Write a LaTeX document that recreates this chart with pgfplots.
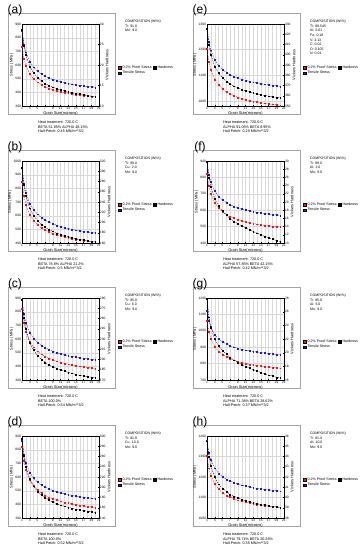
\documentclass[border=0pt]{standalone}
\usepackage{fontspec}
\setmainfont{Liberation Sans}
\usepackage{pgfplots}
\usepackage{pgfplotstable}
\pgfplotsset{compat=1.18}

\definecolor{cred}{RGB}{235,25,25}
\definecolor{cblue}{RGB}{25,25,215}
\definecolor{framec}{RGB}{165,165,165}
\newcommand{\tkf}{\fontsize{3.3}{3.8}\selectfont}
\newcommand{\lbf}{\fontsize{3.9}{4.4}\selectfont}
\newcommand{\lgf}{\fontsize{3.6}{4.2}\selectfont}

\pgfplotstableread{
x r b h
1 736 850 28.6
1.5 649 752 24.8
2 597 694 22.5
3 536 625 19.7
4 499 584 18.1
5 474 556 17.0
6 456 535 16.2
7 441 519 15.5
8 430 506 15.0
9 420 495 14.6
10 412 486 14.2
11 405 478 13.9
12 399 472 13.7
13 394 466 13.4
14 389 460 13.2
15 384 455 13.0
16 381 451 12.9
17 377 447 12.7
18 374 443 12.6
19 371 440 12.4
20 368 437 12.3
}\tabA
\pgfplotstableread{
x r b h
1 850 951 307
1.5 745 838 273
2 683 771 252
3 609 691 228
4 565 643 214
5 535 611 204
6 512 587 196
7 495 568 191
8 481 553 186
9 470 541 183
10 460 530 179
11 451 521 177
12 444 513 174
13 438 506 172
14 432 500 170
15 427 494 168
16 422 489 167
17 418 485 166
18 414 480 164
19 410 477 163
20 407 473 162
}\tabB
\pgfplotstableread{
x r b h
1 819 888 288
1.5 717 784 261
2 656 722 245
3 583 649 225
4 540 605 214
5 511 575 206
6 489 553 200
7 472 536 196
8 459 522 192
9 447 510 189
10 438 501 187
11 429 492 185
12 422 485 183
13 416 479 181
14 410 473 180
15 405 468 178
16 401 463 177
17 397 459 176
18 393 455 175
19 389 451 174
20 386 448 173
}\tabC
\pgfplotstableread{
x r b h
1 822 863 295
1.5 717 764 261
2 655 704 241
3 580 634 217
4 536 592 202
5 506 563 192
6 484 542 185
7 466 526 180
8 452 513 175
9 441 502 171
10 431 492 168
11 423 484 165
12 415 477 163
13 409 471 161
14 403 466 159
15 398 461 157
16 393 456 156
17 389 452 155
18 385 449 153
19 381 445 152
20 378 442 151
}\tabD
\pgfplotstableread{
x r b h
1 1204 1283 425.7
1.5 1152 1230 409.7
2 1121 1198 400.2
3 1084 1160 388.8
4 1062 1138 382.1
5 1047 1122 377.5
6 1036 1111 374.1
7 1027 1102 371.5
8 1020 1095 369.3
9 1014 1089 367.6
10 1009 1084 366.1
11 1005 1080 364.8
12 1002 1076 363.7
13 998 1073 362.7
14 996 1070 361.8
15 993 1067 361.0
16 991 1065 360.3
17 988 1063 359.6
18 987 1061 359.1
19 985 1059 358.5
20 983 1057 358.0
}\tabE
\pgfplotstableread{
x r b h
1 824 896 29.8
1.5 747 819 26.0
2 701 773 23.8
3 646 718 20.8
4 613 685 19.0
5 591 663 17.8
6 575 647 16.8
7 562 634 16.0
8 552 624 15.3
9 543 615 14.7
10 536 608 14.2
11 530 602 13.7
12 524 596 13.2
13 520 592 12.8
14 515 587 12.4
15 512 584 12.0
16 508 580 11.6
17 505 577 11.3
18 502 574 11.0
19 499 571 10.6
20 497 569 10.3
}\tabF
\pgfplotstableread{
x r b h
1 1062 1124 27.9
1.5 994 1060 25.2
2 953 1023 23.7
3 904 978 22.0
4 875 951 21.0
5 856 933 20.3
6 841 919 19.8
7 830 909 19.3
8 821 900 18.9
9 813 893 18.6
10 807 887 18.3
11 801 882 18.0
12 796 878 17.8
13 792 874 17.5
14 788 870 17.3
15 785 867 17.1
16 782 864 16.9
17 779 862 16.7
18 777 859 16.6
19 774 857 16.4
20 772 855 16.3
}\tabG
\pgfplotstableread{
x r b h
1 1302 1376 45.5
1.5 1243 1318 44.0
2 1208 1284 43.1
3 1166 1243 42.0
4 1141 1218 41.3
5 1124 1202 40.9
6 1111 1189 40.6
7 1102 1180 40.3
8 1094 1172 40.1
9 1087 1166 40.0
10 1082 1160 39.8
11 1077 1156 39.7
12 1073 1152 39.6
13 1069 1148 39.5
14 1066 1145 39.4
15 1063 1142 39.3
16 1061 1139 39.3
17 1058 1137 39.2
18 1056 1135 39.1
19 1054 1133 39.1
20 1052 1131 39.0
}\tabH

\pgfplotsset{
 legend image code/.code={\draw[#1,solid,fill,draw=black,line width=0.15pt] (0pt,-1.3pt) rectangle (2.6pt,1.3pt);},
 common/.style={scale only axis, width=77pt, height=82pt, xmin=1, xmax=21, anchor=south west, clip=false,
   tick label style={font=\tkf}, label style={font=\lbf},
   /pgf/number format/assume math mode=true, /pgf/number format/1000 sep={},
   axis line style={line width=0.4pt}, major tick length=1.3pt, minor tick length=0pt,
   tick style={line width=0.3pt,black}},
 mainax/.style={common, xtick={1,3,...,21}, minor x tick num=1, grid=both,
   major grid style={gray!30,line width=0.25pt}, minor grid style={gray!30,line width=0.25pt},
   xtick pos=left, ytick pos=left, xlabel={Grain Size(microns)}, ylabel={Stress (MPa)},
   xticklabel style={inner sep=0.8pt}, yticklabel style={inner sep=0.8pt},
   xlabel style={inner sep=1pt}, ylabel style={inner sep=1pt},
   legend columns=2, legend cell align=left,
   legend style={at={(1.247,0.433)}, anchor=west, draw=none, fill=none, font=\lgf,
     inner sep=0pt, row sep=0.5pt, /tikz/column sep=1.2pt, nodes={inner sep=0.4pt}}},
 rightax/.style={common, axis x line=none, axis y line*=right, ylabel={Vickers Hardness},
   yticklabel style={inner sep=0.8pt}, ylabel style={inner sep=1pt}},
 pr/.style={cred, line width=0.35pt, dash pattern=on 1.5pt off 1pt, mark=square*, mark size=0.45pt, mark options={solid}},
 pb/.style={cblue, line width=0.35pt, dash pattern=on 1.5pt off 1pt, mark=square*, mark size=0.45pt, mark options={solid}},
 pk/.style={black, line width=0.35pt, dash pattern=on 1.5pt off 1pt, mark=square*, mark size=0.45pt, mark options={solid}},
}

% #1 ox, #2 oy, #3 letter, #4 table, #5 left opts, #6 right opts, #7 composition, #8 phases, #9 Hall-Petch
\newcommand{\panel}[9]{%
 \pgfmathsetmacro\ax{#1+22}%
 \pgfmathsetmacro\ay{550-#2-106}%
 \pgfmathsetmacro\fl{#1+8}%
 \pgfmathsetmacro\fr{#1+115}%
 \pgfmathsetmacro\ft{550-#2-13.5}%
 \pgfmathsetmacro\fb{550-#2-114.5}%
 \draw[framec,line width=1pt] (\fl pt,\ft pt) rectangle (\fr pt,\fb pt);
 \node[font=\fontsize{12}{12}\selectfont,inner sep=0pt] at ({(#1+15)*1pt},{(550-#2-10.5)*1pt}) {(#3)};
 \node[anchor=north west,align=left,inner sep=0pt,font=\fontsize{3.5}{4.6}\selectfont] at ({(#1+125)*1pt},{(550-#2-20)*1pt}) {COMPOSITION (Wt\%)\\#7};
 \node[anchor=north west,align=left,inner sep=0pt,font=\fontsize{3.7}{4.5}\selectfont] at ({(#1+38)*1pt},{(550-#2-121)*1pt}) {Heat treatment: 720.0 C\\#8\\Hall-Petch: #9 MN/m**3/2};
 \begin{axis}[mainax, at={(\ax pt,\ay pt)}, #5]
  \addplot[pr] table[x=x,y=r]{#4}; \addlegendentry{0.2\% Proof Stress}
  \addlegendimage{pk} \addlegendentry{Hardness}
  \addplot[pb] table[x=x,y=b]{#4}; \addlegendentry{Tensile Stress}
 \end{axis}
 \begin{axis}[rightax, at={(\ax pt,\ay pt)}, #6]
  \addplot[pk] table[x=x,y=h]{#4};
 \end{axis}
}

\begin{document}
\begin{tikzpicture}
\useasboundingbox (0,0) rectangle (362pt,550pt);
\panel{0}{0}{a}{\tabA}{ymin=300,ymax=900,ytick={300,400,...,900}}{ymin=10,ymax=30,ytick={10,15,...,30}}{Ti: 91.0\\Mo: 9.0}{BETA 51.85\% ALPHA 48.15\%}{0.45}
\panel{0}{137}{b}{\tabB}{ymin=400,ymax=1000,ytick={400,500,...,1000}}{ymin=160,ymax=320,ytick={160,180,...,320}}{Ti: 89.0\\Cu: 2.0\\Mo: 9.0}{BETA 78.8\% ALPHA 21.2\%}{0.5}
\panel{0}{274}{c}{\tabC}{ymin=300,ymax=900,ytick={300,400,...,900}}{ymin=170,ymax=290,ytick={170,185,...,290}}{Ti: 85.0\\Cu: 6.0\\Mo: 9.0}{BETA 100.0\%}{0.54}
\panel{0}{412}{d}{\tabD}{ymin=300,ymax=900,ytick={300,400,...,900}}{ymin=140,ymax=300,ytick={140,160,...,300}}{Ti: 81.0\\Cu: 10.0\\Mo: 9.0}{BETA 100.0\%}{0.52}
\panel{185}{0}{e}{\tabE}{ymin=980,ymax=1300,ytick={1000,1100,1200,1300}}{ymin=350,ymax=430,ytick={350,360,...,430}}{Ti: 89.545\\Al: 6.01\\Fe: 0.18\\V: 4.13\\C: 0.02\\O: 0.105\\N: 0.01}{ALPHA 91.05\% BETA 8.95\%}{0.29}
\panel{185}{137}{f}{\tabF}{ymin=400,ymax=900,ytick={400,500,...,900}}{ymin=10,ymax=30,ytick={10,12,...,30}}{Ti: 89.0\\Al: 2.0\\Mo: 9.0}{ALPHA 57.85\% BETA 42.15\%}{0.42}
\panel{185}{274}{g}{\tabG}{ymin=700,ymax=1200,ytick={700,800,...,1200}}{ymin=16,ymax=28,ytick={16,18,...,28}}{Ti: 85.0\\Al: 6.0\\Mo: 9.0}{ALPHA 71.38\% BETA 28.62\%}{0.37}
\panel{185}{412}{h}{\tabH}{ymin=1000,ymax=1400,ytick={1000,1100,...,1400}}{ymin=38,ymax=46,ytick={38,39,...,46}}{Ti: 81.0\\Al: 10.0\\Mo: 9.0}{ALPHA 79.74\% BETA 20.26\%}{0.35}
\end{tikzpicture}
\end{document}
